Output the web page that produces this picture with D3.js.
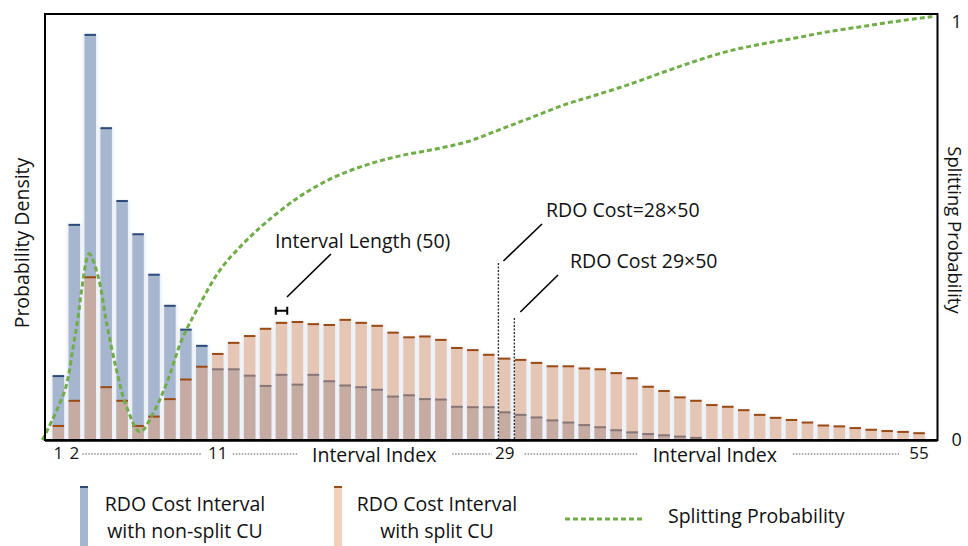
<!DOCTYPE html>
<html>
<head>
<meta charset="utf-8">
<script src="https://cdn.jsdelivr.net/npm/d3@7"></script>
<style>
  body { margin: 0; background: #fff; }
  text { font-family: "Open Sans", "Noto Sans", sans-serif; fill: #111; }
</style>
</head>
<body>
<div id="svg"></div>
<script>
// interval indices 1..55
var intervals = d3.range(1, 56);

// probability density (as % of plot height) of RDO cost intervals
var nonSplit = [15.0, 50.5, 95.1, 73.2, 56.1, 48.3, 38.8, 31.5, 25.9, 22.1,
    16.6, 16.6, 15.1, 12.7, 15.3, 13.0, 15.3, 13.8, 12.8, 12.4,
    11.8, 10.2, 10.5, 9.6, 9.5, 7.8, 7.7, 7.7, 6.5, 5.9,
    5.3, 4.6, 4.1, 3.5, 3.0, 2.3, 1.8, 1.4, 1.1, 0.8,
    0.5, 0, 0, 0, 0, 0, 0, 0, 0, 0,
    0, 0, 0, 0, 0];
var split = [3.3, 9.2, 38.2, 12.4, 9.2, 3.3, 5.5, 9.6, 14.2, 17.2,
    20.2, 22.8, 24.4, 26.1, 27.5, 27.7, 27.2, 27.0, 28.2, 27.5,
    26.8, 25.2, 24.1, 24.3, 23.5, 21.6, 21.1, 20.0, 19.1, 18.8,
    18.1, 17.3, 17.3, 16.8, 16.6, 15.7, 14.5, 12.5, 11.5, 10.0,
    9.2, 8.2, 7.8, 7.0, 5.9, 5.2, 4.7, 4.1, 3.4, 3.2,
    2.8, 2.4, 2.1, 1.9, 1.6];

// splitting probability curve (index position, probability)
var probIndex = [0, 1.41, 1.93, 2.24, 2.46, 2.93, 3.5, 4.03, 4.65, 5.28,
    6.12, 6.95, 7.79, 8.74, 9.68, 11.14, 12.6, 14.07, 16.16, 18.25,
    20.35, 22.44, 24.53, 26.63, 28.72, 30.81, 32.91, 34.58, 36.68, 38.77,
    40.86, 42.96, 45.05, 47.14, 49.24, 51.33, 53.42, 55.83];
var probValue = [0, 0.117, 0.219, 0.289, 0.352, 0.437, 0.383, 0.274, 0.164, 0.078,
    0.019, 0.063, 0.133, 0.235, 0.305, 0.399, 0.461, 0.512, 0.572, 0.616,
    0.646, 0.667, 0.682, 0.700, 0.729, 0.759, 0.789, 0.808, 0.833, 0.861,
    0.888, 0.912, 0.929, 0.943, 0.958, 0.970, 0.982, 0.994];

var xTicks = [1, 2, 11, 29, 55];
var probTicks = [0, 1];

var width = 968,
    height = 546;

var blue = "#a5b6ce", blueCap = "#2e4a78",
    peach = "#e5a176", peachCap = "#9a4a14",
    green = "#70ad47";

var plot = { left: 45, right: 937.5, top: 14, bottom: 440 };

var x = d3.scaleBand()
    .domain(intervals)
    .range([50.4, 927])
    .paddingInner(0.28)
    .paddingOuter(0.14);
var bw = x.bandwidth();

// continuous index -> pixel, lined up on the band centers
var xi = d3.scaleLinear()
    .domain([1, 55])
    .range([x(1) + bw / 2, x(55) + bw / 2]);

var y = d3.scaleLinear().domain([0, 100]).range([plot.bottom, plot.top]);
var yp = d3.scaleLinear().domain([0, 1]).range([plot.bottom, plot.top]);

var svg = d3.select("#svg").append("svg")
    .attr("width", width)
    .attr("height", height);

var defs = svg.append("defs");
defs.append("filter").attr("id", "glow")
    .attr("x", "-50%").attr("y", "-5%").attr("width", "200%").attr("height", "110%")
    .append("feGaussianBlur").attr("stdDeviation", 1.4);

var rows = intervals.map(function (d, i) {
    return { id: d, ns: nonSplit[i], sp: split[i] };
});

// faint halo round the bars
svg.append("g")
    .attr("filter", "url(#glow)")
    .selectAll("rect")
    .data(rows)
    .enter().append("rect")
    .attr("x", d => x(d.id) - 1.5)
    .attr("y", d => y(Math.max(d.ns, d.sp)) - 1)
    .attr("width", bw + 3)
    .attr("height", d => plot.bottom - y(Math.max(d.ns, d.sp)) + 1)
    .attr("fill", "#e6ecf5");

// non-split bars
svg.append("g")
    .selectAll("rect")
    .data(rows.filter(d => d.ns > 0))
    .enter().append("rect")
    .attr("x", d => x(d.id))
    .attr("y", d => y(d.ns))
    .attr("width", bw)
    .attr("height", d => plot.bottom - y(d.ns))
    .attr("fill", blue);

svg.append("g")
    .selectAll("rect")
    .data(rows.filter(d => d.ns > 0))
    .enter().append("rect")
    .attr("x", d => x(d.id))
    .attr("y", d => y(d.ns) - 1)
    .attr("width", bw)
    .attr("height", 2)
    .attr("fill", blueCap);

// split bars, see-through so the overlap shows
svg.append("g")
    .attr("opacity", 0.5)
    .selectAll("rect")
    .data(rows)
    .enter().append("rect")
    .attr("x", d => x(d.id))
    .attr("y", d => y(d.sp))
    .attr("width", bw)
    .attr("height", d => plot.bottom - y(d.sp))
    .attr("fill", peach);

svg.append("g")
    .selectAll("rect")
    .data(rows)
    .enter().append("rect")
    .attr("x", d => x(d.id))
    .attr("y", d => y(d.sp) - 1)
    .attr("width", bw)
    .attr("height", 2)
    .attr("fill", peachCap);

// splitting probability
var probPts = probIndex.map(function (d, i) { return [d, probValue[i]]; });
var line = d3.line()
    .x(d => xi(d[0]))
    .y(d => yp(d[1]))
    .curve(d3.curveCatmullRom.alpha(0.5));

svg.append("path")
    .datum(probPts)
    .attr("d", line)
    .attr("fill", "none")
    .attr("stroke", green)
    .attr("stroke-width", 3)
    .attr("stroke-dasharray", "5,3");

// annotations
function leader(x1, y1, x2, y2) {
    svg.append("line")
        .attr("x1", x1).attr("y1", y1)
        .attr("x2", x2).attr("y2", y2)
        .attr("stroke", "#000")
        .attr("stroke-width", 1.6);
}
function note(tx, ty, str) {
    svg.append("text")
        .attr("x", tx).attr("y", ty)
        .style("font-size", "19.5px")
        .text(str);
}

// interval length marker over bar 15
var bx = x(15), by = y(split[14]) - 12;
svg.append("path")
    .attr("d", "M" + bx + "," + (by - 4) + "V" + (by + 4)
        + "M" + bx + "," + by + "H" + (bx + bw)
        + "M" + (bx + bw) + "," + (by - 4) + "V" + (by + 4))
    .attr("stroke", "#000")
    .attr("stroke-width", 2)
    .attr("fill", "none");
leader(331, 254, 287, 297);
note(275, 248, "Interval Length (50)");

// RDO cost markers at the left edges of intervals 29 and 30
var m1 = x(29) - 0.5, m2 = x(30) - 0.5;
svg.append("line")
    .attr("x1", m1).attr("x2", m1)
    .attr("y1", 263).attr("y2", plot.bottom)
    .attr("stroke", "#333").attr("stroke-width", 1.4)
    .attr("stroke-dasharray", "2,1.5");
svg.append("line")
    .attr("x1", m2).attr("x2", m2)
    .attr("y1", 318).attr("y2", plot.bottom)
    .attr("stroke", "#333").attr("stroke-width", 1.4)
    .attr("stroke-dasharray", "2,1.5");
leader(542, 224, m1 + 5, 261);
note(546, 217, "RDO Cost=28\u00d750");
leader(558, 275, m2 + 6, 312);
note(570, 268, "RDO Cost 29\u00d750");

// frame
svg.append("rect")
    .attr("x", plot.left)
    .attr("y", plot.top)
    .attr("width", plot.right - plot.left)
    .attr("height", plot.bottom - plot.top)
    .attr("fill", "none")
    .attr("stroke", "#000")
    .attr("stroke-width", 2);
svg.append("line")
    .attr("x1", plot.left).attr("x2", plot.right)
    .attr("y1", plot.bottom + 0.5).attr("y2", plot.bottom + 0.5)
    .attr("stroke", "#000").attr("stroke-width", 2.5);

// bottom axis: selected interval indices
var xAxis = svg.append("g")
    .attr("transform", "translate(0," + plot.bottom + ")")
    .call(d3.axisBottom(x).tickValues(xTicks).tickSize(0).tickPadding(7));
xAxis.select(".domain").remove();
xAxis.selectAll("text")
    .style("font-size", "17px")
    .style("font-family", "'Open Sans', sans-serif")
    .attr("fill", "#111");

var axisY = 462;
var cx = d => x(d) + bw / 2;
var lab1 = (cx(11) + cx(29)) / 2 + 13, lab2 = (cx(29) + cx(55)) / 2 + 3;
[lab1, lab2].forEach(function (c) {
    svg.append("text")
        .attr("x", c).attr("y", axisY)
        .attr("text-anchor", "middle")
        .style("font-size", "19.5px")
        .text("Interval Index");
});
var dots = [[cx(2) + 8, cx(11) - 16], [cx(11) + 15, lab1 - 77],
    [lab1 + 78, cx(29) - 13], [cx(29) + 20, lab2 - 77],
    [lab2 + 78, cx(55) - 20]];
svg.append("g")
    .selectAll("line")
    .data(dots)
    .enter().append("line")
    .attr("x1", d => d[0]).attr("x2", d => d[1])
    .attr("y1", 454).attr("y2", 454)
    .attr("stroke", "#555")
    .attr("stroke-width", 1)
    .attr("stroke-dasharray", "1.5,1.5");

// right axis: splitting probability
var yAxis = svg.append("g")
    .attr("transform", "translate(" + plot.right + ",0)")
    .call(d3.axisRight(yp).tickValues(probTicks).tickSize(0).tickPadding(14).tickFormat(d3.format("d")));
yAxis.select(".domain").remove();
yAxis.selectAll("text")
    .style("font-size", "18px")
    .style("font-family", "'Open Sans', sans-serif")
    .attr("fill", "#111");
yAxis.selectAll(".tick").filter(d => d === 1).select("text").attr("dy", "0.75em");

svg.append("text")
    .attr("transform", "translate(22," + 243 + ") rotate(-90)")
    .attr("text-anchor", "middle")
    .attr("dy", "0.35em")
    .style("font-size", "19.5px")
    .text("Probability Density");
svg.append("text")
    .attr("transform", "translate(948," + 230 + ") rotate(90)")
    .attr("text-anchor", "middle")
    .style("font-size", "18.5px")
    .text("Splitting Probability");

// legend
function legendBar(lx, fill, cap) {
    svg.append("rect")
        .attr("x", lx).attr("y", 487)
        .attr("width", 8).attr("height", height - 487)
        .attr("fill", fill);
    svg.append("rect")
        .attr("x", lx).attr("y", 486)
        .attr("width", 8).attr("height", 2)
        .attr("fill", cap);
}
function legendText(lx, l1, l2) {
    svg.append("text").attr("x", lx).attr("y", 511)
        .attr("text-anchor", "middle").style("font-size", "19.5px").text(l1);
    svg.append("text").attr("x", lx).attr("y", 538)
        .attr("text-anchor", "middle").style("font-size", "19.5px").text(l2);
}
legendBar(80, blue, blueCap);
legendText(185, "RDO Cost Interval", "with non-split CU");
legendBar(334, "#f2d0bb", peachCap);
legendText(437, "RDO Cost Interval", "with split CU");
svg.append("line")
    .attr("x1", 565).attr("x2", 645)
    .attr("y1", 519).attr("y2", 519)
    .attr("stroke", green)
    .attr("stroke-width", 3)
    .attr("stroke-dasharray", "5,3");
svg.append("text")
    .attr("x", 668).attr("y", 523)
    .style("font-size", "19.5px")
    .text("Splitting Probability");
</script>
</body>
</html>
